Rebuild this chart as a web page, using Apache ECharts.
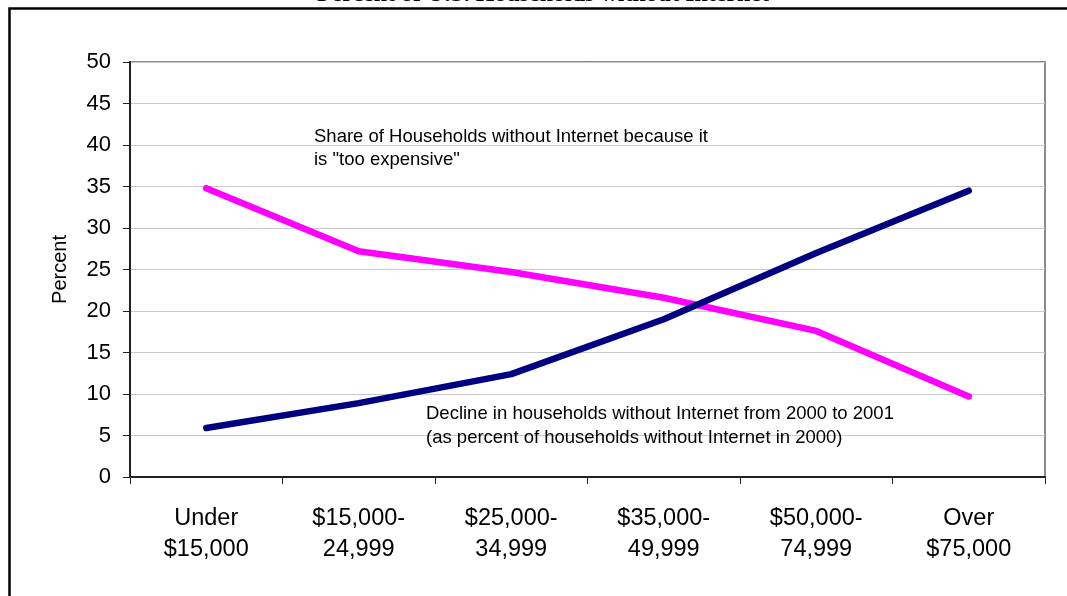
<!DOCTYPE html>
<html>
<head>
<meta charset="utf-8">
<script src="https://cdn.jsdelivr.net/npm/echarts@6/dist/echarts.min.js"></script>
<style>
html,body{margin:0;padding:0;background:#fff;}
#chart{width:1067px;height:596px;}
</style>
</head>
<body>
<div id="chart"></div>
<script>
var categories = ['Under\n$15,000', '$15,000-\n24,999', '$25,000-\n34,999', '$35,000-\n49,999', '$50,000-\n74,999', 'Over\n$75,000'];
var tooExpensive = [34.8, 27.2, 24.7, 21.6, 17.6, 9.7];
var declineShare = [5.9, 8.9, 12.4, 19.0, 27.0, 34.5];
var yTicks = { min: 0, max: 50, interval: 5 };
var titleText = 'Percent of U.S. Households without Internet';
var note1 = 'Share of Households without Internet because it\nis "too expensive"';
var note2 = 'Decline in households without Internet from 2000 to 2001\n(as percent of households without Internet in 2000)';

var chart = echarts.init(document.getElementById('chart'), null, {renderer: 'canvas'});
var font = 'Liberation Sans, Arial, sans-serif';
chart.setOption({
  animation: false,
  backgroundColor: '#ffffff',
  grid: { left: 130, top: 62, right: 22, bottom: 119, show: true, borderColor: '#8c8c8c', borderWidth: 2, backgroundColor: 'transparent' },
  xAxis: {
    type: 'category',
    data: categories,
    boundaryGap: true,
    axisLine: { lineStyle: { color: '#222', width: 2 } },
    axisTick: { show: true, interval: 0, length: 7, lineStyle: { color: '#222', width: 1 } },
    axisLabel: { interval: 0, color: '#000', fontFamily: font, fontSize: 23.5, lineHeight: 31, margin: 26 }
  },
  yAxis: {
    type: 'value',
    min: yTicks.min, max: yTicks.max, interval: yTicks.interval,
    name: 'Percent',
    nameLocation: 'middle',
    nameGap: 60,
    nameTextStyle: { color: '#000', fontFamily: font, fontSize: 20 },
    axisLine: { show: true, lineStyle: { color: '#222', width: 2 } },
    axisTick: { show: true, length: 7, lineStyle: { color: '#222', width: 1 } },
    axisLabel: { color: '#000', fontFamily: font, fontSize: 22, margin: 19 },
    splitLine: { show: true, lineStyle: { color: '#c8c8c8', width: 1 } }
  },
  series: [
    { name: 'Too expensive', type: 'line', data: tooExpensive, symbol: 'none', lineStyle: { color: '#ff00ff', width: 6.5, cap: 'round', join: 'round' }, z: 3 },
    { name: 'Decline', type: 'line', data: declineShare, symbol: 'none', lineStyle: { color: '#000080', width: 6.5, cap: 'round', join: 'round' }, z: 4 }
  ],
  graphic: [
    { type: 'rect', left: 7, top: 6, shape: { x: 0, y: 0, width: 1100, height: 700 }, style: { fill: 'none', stroke: '#000', lineWidth: 2.5 }, z: 100 },
    { type: 'text', x: 543, y: 7, style: { text: titleText, fill: '#000', font: 'bold 24px "Liberation Serif", "Times New Roman", serif', textAlign: 'center', textVerticalAlign: 'bottom' }, z: 100 },
    { type: 'text', x: 314, y: 125, style: { text: note1, fill: '#000', font: '18.5px "Liberation Sans", Arial, sans-serif', lineHeight: 23 }, z: 50 },
    { type: 'text', x: 426, y: 402, style: { text: note2, fill: '#000', font: '18.5px "Liberation Sans", Arial, sans-serif', lineHeight: 24 }, z: 50 }
  ]
});
</script>
</body>
</html>
